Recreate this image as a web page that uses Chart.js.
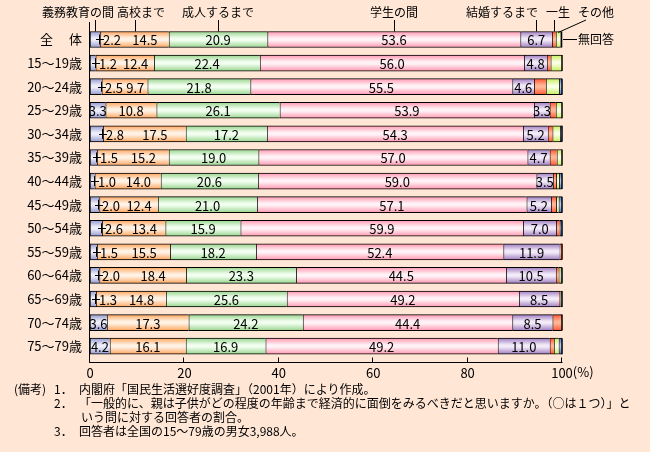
<!DOCTYPE html>
<html>
<head>
<meta charset="utf-8">
<script src="https://cdn.jsdelivr.net/npm/chart.js@4.4.0/dist/chart.umd.min.js"></script>
<style>
html, body { margin:0; padding:0; background:#ffe6d5; }
#wrap { position:relative; width:650px; height:452px; }
#myChart { position:absolute; left:0; top:0; }
.n { position:absolute; font:12px "Noto Sans CJK JP", sans-serif; color:#000; white-space:nowrap; line-height:14px; }
</style>
</head>
<body>
<div id="wrap">
<canvas id="myChart" width="650" height="452"></canvas>
<div class="n" style="left:14px;top:382px">(備考)</div>
<div class="n" style="left:54px;top:382px">1．</div>
<div class="n" style="left:79px;top:382px">内閣府「国民生活選好度調査」（2001年）により作成。</div>
<div class="n" style="left:54px;top:396px">2．</div>
<div class="n" style="left:79px;top:396px">「一般的に、親は子供がどの程度の年齢まで経済的に面倒をみるべきだと思いますか。（○は１つ）」と</div>
<div class="n" style="left:81px;top:410px">いう問に対する回答者の割合。</div>
<div class="n" style="left:54px;top:424px">3．</div>
<div class="n" style="left:79px;top:424px">回答者は全国の15～79歳の男女3,988人。</div>
</div>
<script>
// datos
const categorias = ['全　 体','15～19歳','20～24歳','25～29歳','30～34歳','35～39歳','40～44歳','45～49歳','50～54歳','55～59歳','60～64歳','65～69歳','70～74歳','75～79歳'];
const series = ['義務教育の間','高校まで','成人するまで','学生の間','結婚するまで','一生','その他','無回答'];
const gimukyoiku = [2.2,1.2,2.5,3.3,2.8,1.5,1.0,2.0,2.6,1.5,2.0,1.3,3.6,4.2];
const koukou     = [14.5,12.4,9.7,10.8,17.5,15.2,14.0,12.4,13.4,15.5,18.4,14.8,17.3,16.1];
const seijin     = [20.9,22.4,21.8,26.1,17.2,19.0,20.6,21.0,15.9,18.2,23.3,25.6,24.2,16.9];
const gakusei    = [53.6,56.0,55.5,53.9,54.3,57.0,59.0,57.1,59.9,52.4,44.5,49.2,44.4,49.2];
const kekkon     = [6.7,4.8,4.6,3.3,5.2,4.7,3.5,5.2,7.0,11.9,10.5,8.5,8.5,11.0];
const issho      = [0.8,0.8,2.5,1.3,1.0,1.5,0.7,1.1,0.7,0.3,0.6,0.2,2.0,0.9];
const sonota     = [1.0,2.4,2.8,1.3,1.6,1.1,0.6,0.5,0.0,0.2,0.4,0.1,0.0,1.0];
const mukaitou   = [0.2,0.0,0.6,0.0,0.4,0.0,0.6,0.7,0.5,0.0,0.3,0.3,0.0,0.7];
const xTicks = [0,20,40,60,80,100];

const colores = [
    ['#9499cc','#eeeefa'],
    ['#ffa55e','#fff2e4'],
    ['#98d48e','#f2fff0'],
    ['#ff97b0','#fff2f6'],
    ['#9f7cc0','#f2eaf8'],
    ['#ff5533','#ffb595'],
    ['#c6ee5c','#f8ffe2'],
    ['#4a7ad0','#b4ccf2']
];

const FONT = '"Noto Sans CJK JP", sans-serif';
const BAR = 16;

function degradado(c0, c1){
    return function(context){
        let chart = context.chart;
        if(context.dataIndex === undefined || !chart.scales.y) return c0;
        let y = chart.scales.y.getPixelForValue(context.dataIndex);
        if(!isFinite(y)) return c0;
        let g = chart.ctx.createLinearGradient(0, y - BAR/2, 0, y + BAR/2);
        g.addColorStop(0, c0);
        g.addColorStop(0.42, c1);
        g.addColorStop(0.55, c1);
        g.addColorStop(1, c0);
        return g;
    };
}

function linea(ctx, x1, y1, x2, y2){
    ctx.beginPath();
    ctx.moveTo(x1, y1);
    ctx.lineTo(x2, y2);
    ctx.stroke();
}

const etiquetas = {
    id: 'etiquetas',
    afterDatasetsDraw(chart){
        let ctx = chart.ctx;
        ctx.save();
        ctx.font = '13px ' + FONT;
        ctx.fillStyle = '#000';
        ctx.strokeStyle = '#000';
        ctx.lineWidth = 1;
        ctx.textBaseline = 'middle';
        for(let i = 0; i < categorias.length; i++){
            let b0 = chart.getDatasetMeta(0).data[i];
            let b1 = chart.getDatasetMeta(1).data[i];
            let yc = b0.y + 1;
            let finEtiqueta = null;
            let v0 = gimukyoiku[i].toFixed(1);
            if(gimukyoiku[i] >= 3){
                ctx.textAlign = 'center';
                ctx.fillText(v0, (b0.base + b0.x)/2, yc);
            }else{
                let xe = Math.round(b0.x);
                linea(ctx, xe - 4, Math.round(b0.y) + 0.5, xe + 4, Math.round(b0.y) + 0.5);
                linea(ctx, xe - 0.5, b0.y - 5, xe - 0.5, b0.y + 5);
                ctx.textAlign = 'left';
                ctx.fillText(v0, xe + 3, yc);
                finEtiqueta = xe + 3 + ctx.measureText(v0).width;
            }
            ctx.textAlign = 'center';
            let ini1 = finEtiqueta !== null ? finEtiqueta : b1.base;
            ctx.fillText(koukou[i].toFixed(1), (ini1 + b1.x)/2, yc);
            [seijin, gakusei, kekkon].forEach(function(arr, k){
                let b = chart.getDatasetMeta(k + 2).data[i];
                ctx.fillText(arr[i].toFixed(1), (b.base + b.x)/2, yc);
            });
            // borde final
            let xmax = 0;
            for(let d = 0; d < series.length; d++){
                xmax = Math.max(xmax, chart.getDatasetMeta(d).data[i].x);
            }
            ctx.lineWidth = 1.5;
            linea(ctx, xmax, b0.y - BAR/2, xmax, b0.y + BAR/2);
            ctx.lineWidth = 1;
        }
        ctx.restore();
    },
    afterDraw(chart){
        let ctx = chart.ctx;
        let area = chart.chartArea;
        let xs = chart.scales.x;
        ctx.save();
        ctx.strokeStyle = '#000';
        ctx.fillStyle = '#000';
        ctx.lineWidth = 1;
        // ejes
        let yb = Math.round(area.bottom + 4) + 0.5;
        let xl = Math.round(area.left) - 0.5;
        linea(ctx, xl, 22, xl, yb);
        linea(ctx, xl, yb, Math.round(area.right) + 0.5, yb);
        xTicks.forEach(function(t){
            let px = Math.round(xs.getPixelForValue(t)) - 0.5;
            linea(ctx, px, yb - 5, px, yb);
        });
        ctx.font = '13px ' + FONT;
        ctx.textAlign = 'left';
        ctx.textBaseline = 'middle';
        let px100 = xs.getPixelForValue(100);
        ctx.fillText('(%)', px100 + ctx.measureText('100').width/2, 372);

        // nombres de series con lineas guia
        ctx.font = '12px ' + FONT;
        ctx.textAlign = 'center';
        let fila = [];
        for(let d = 0; d < series.length; d++){
            let b = chart.getDatasetMeta(d).data[0];
            fila.push({c: (b.base + b.x)/2, top: b.y - BAR/2});
        }
        let ty = 12;
        let posTexto = [78, 141, 218, 394, 502, 558, 596];
        for(let d = 0; d < 7; d++){
            ctx.fillText(series[d], posTexto[d], ty);
        }
        for(let d = 0; d < 6; d++){
            let x = Math.round(fila[d].c) + 0.5;
            linea(ctx, x, 20, x, fila[d].top);
        }
        linea(ctx, 586, 20, fila[6].c, fila[6].top + 1);
        ctx.textAlign = 'left';
        ctx.fillText(series[7], 578, 39);
        linea(ctx, fila[7].c + 2, 39.5, 577, 39.5);
        ctx.restore();
    }
};

const valores = [gimukyoiku, koukou, seijin, gakusei, kekkon, issho, sonota, mukaitou];
let datasets = [];
for(let d = 0; d < series.length; d++){
    datasets.push({
        label: series[d],
        data: valores[d],
        backgroundColor: degradado(colores[d][0], colores[d][1]),
        borderColor: '#000',
        borderWidth: {left: 1, top: 1, bottom: 1, right: 0},
        borderSkipped: false,
        barThickness: BAR
    });
}

let ctx = document.getElementById('myChart');
let myChart = new Chart(ctx, {
    type: 'bar',
    data: {
        labels: categorias,
        datasets: datasets
    },
    options: {
        indexAxis: 'y',
        responsive: false,
        animation: false,
        devicePixelRatio: 1,
        layout: {
            padding: {left: 0, top: 27.7, right: 88, bottom: 64}
        },
        plugins: {
            legend: {display: false},
            tooltip: {enabled: false}
        },
        scales: {
            x: {
                stacked: true,
                min: 0,
                max: 100,
                afterFit: function(s){ s.height = 30; },
                afterBuildTicks: function(s){ s.ticks = xTicks.map(function(v){ return {value: v}; }); },
                grid: {display: false, drawTicks: false},
                border: {display: false},
                ticks: {
                    color: '#000',
                    padding: 7,
                    font: {family: FONT, size: 13},
                    maxRotation: 0
                }
            },
            y: {
                stacked: true,
                afterFit: function(s){ s.width = 90; },
                grid: {display: false, drawTicks: false},
                border: {display: false},
                ticks: {
                    color: '#000',
                    padding: 8,
                    font: {family: FONT, size: 13}
                }
            }
        }
    },
    plugins: [etiquetas]
});
myChart.update();
</script>
</body>
</html>
